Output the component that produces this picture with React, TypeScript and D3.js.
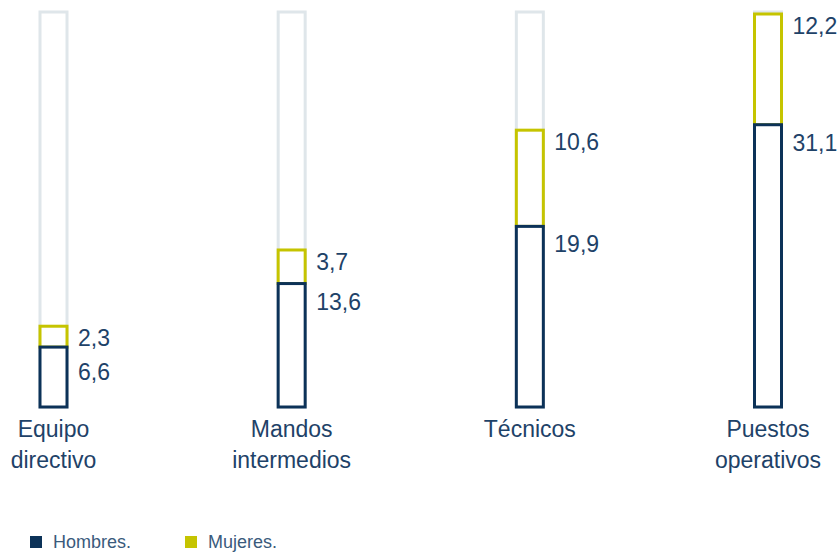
import React from "react";
import * as d3 from "d3";

const categories: string[][] = [
  ["Equipo", "directivo"],
  ["Mandos", "intermedios"],
  ["Técnicos"],
  ["Puestos", "operativos"],
];
const hombres = [6.6, 13.6, 19.9, 31.1];
const mujeres = [2.3, 3.7, 10.6, 12.2];
const hombresLabels = ["6,6", "13,6", "19,9", "31,1"];
const mujeresLabels = ["2,3", "3,7", "10,6", "12,2"];
const legendItems = ["Hombres.", "Mujeres."];

const W = 837;
const H = 553;
const NAVY = "#0c3258";
const YELLOW = "#c5c400";
const GREY = "#dfe6ea";
const TEXT = "#1e4268";
const FONT = "'Liberation Sans', Arial, sans-serif";

export default function App() {
  const totals = hombres.map((h, i) => h + mujeres[i]);
  const maxTotal = d3.max(totals) as number;
  const y = d3.scaleLinear().domain([0, maxTotal]).range([407, 14]);
  const x = d3
    .scalePoint<number>()
    .domain(d3.range(categories.length))
    .range([53.5, 768]);
  const bw = 27;

  return (
    <svg
      width={W}
      height={H}
      style={{ position: "absolute", left: 0, top: 0, display: "block" }}
      fontFamily={FONT}
    >
      {categories.map((cat, i) => {
        const cx = x(i) as number;
        const x0 = cx - bw / 2;
        const hTop = y(hombres[i]);
        const mTop = y(hombres[i] + mujeres[i]);
        const yLab = mTop + 12;
        const hLab = Math.max(hTop + 18, yLab + 34);
        return (
          <g key={i}>
            <rect x={x0} y={12} width={bw} height={407 - 12} fill="none" stroke={GREY} strokeWidth={3} />
            <rect x={x0} y={mTop} width={bw} height={hTop - mTop} fill="#fff" stroke={YELLOW} strokeWidth={3} />
            <rect x={x0} y={hTop} width={bw} height={y(0) - hTop} fill="#fff" stroke={NAVY} strokeWidth={3} />
            <text x={x0 + bw + 11} y={yLab} dy="0.35em" fontSize={23} fill={TEXT}>
              {mujeresLabels[i]}
            </text>
            <text x={x0 + bw + 11} y={hLab} dy="0.35em" fontSize={23} fill={TEXT}>
              {hombresLabels[i]}
            </text>
            {cat.map((line, j) => (
              <text
                key={j}
                x={cx}
                y={429 + j * 31}
                dy="0.35em"
                textAnchor="middle"
                fontSize={23}
                fill={TEXT}
              >
                {line}
              </text>
            ))}
          </g>
        );
      })}
      {legendItems.map((name, i) => {
        const lx = 30 + i * 155;
        return (
          <g key={name}>
            <rect x={lx} y={536} width={12} height={12} fill={i === 0 ? NAVY : YELLOW} />
            <text x={lx + 23} y={548} fontSize={18} fill="#3a5a7c">
              {name}
            </text>
          </g>
        );
      })}
    </svg>
  );
}
